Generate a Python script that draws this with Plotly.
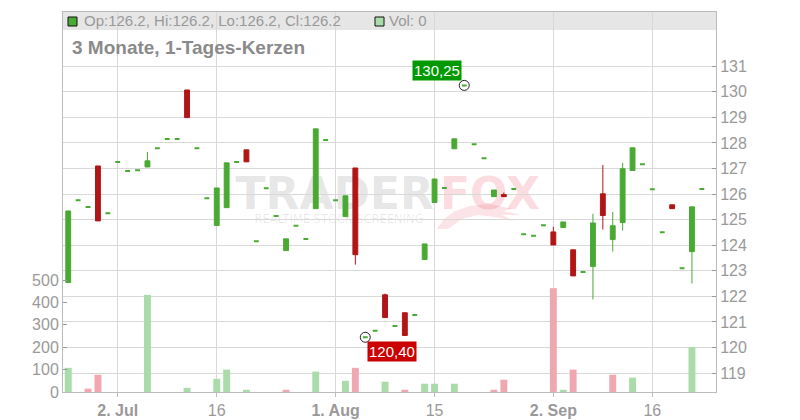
import plotly.graph_objects as go

# ---------------- data ----------------
dates = [
    "2024-06-25", "2024-06-26", "2024-06-27", "2024-06-28",
    "2024-07-01", "2024-07-02", "2024-07-03", "2024-07-04", "2024-07-05",
    "2024-07-08", "2024-07-09", "2024-07-10", "2024-07-11", "2024-07-12",
    "2024-07-15", "2024-07-16", "2024-07-17", "2024-07-18", "2024-07-19",
    "2024-07-22", "2024-07-23", "2024-07-24", "2024-07-25", "2024-07-26",
    "2024-07-29", "2024-07-30", "2024-07-31", "2024-08-01", "2024-08-02",
    "2024-08-05", "2024-08-06", "2024-08-07", "2024-08-08", "2024-08-09",
    "2024-08-12", "2024-08-13", "2024-08-14", "2024-08-15", "2024-08-16",
    "2024-08-19", "2024-08-20", "2024-08-21", "2024-08-22", "2024-08-23",
    "2024-08-26", "2024-08-27", "2024-08-28", "2024-08-29", "2024-08-30",
    "2024-09-02", "2024-09-03", "2024-09-04", "2024-09-05", "2024-09-06",
    "2024-09-09", "2024-09-10", "2024-09-11", "2024-09-12", "2024-09-13",
    "2024-09-16", "2024-09-17", "2024-09-18", "2024-09-19", "2024-09-20",
    "2024-09-23",
]
opens = [
    122.54, 125.76, 125.49, 127.10, 125.25, 127.25, 126.90, 126.93, 127.06,
    127.79, 128.15, 128.15, 130.07, 127.79, 125.84, 124.77, 125.47, 127.25,
    127.73, 124.16, 126.23, 125.14, 123.79, 124.76, 124.24, 125.43, 128.11,
    125.76, 125.12, 127.02, 120.40, 120.66, 122.06, 120.84, 121.36, 121.27,
    123.44, 125.67, 126.24, 127.77, 130.25, 127.95, 127.40, 125.90, 125.98,
    126.20, 124.43, 124.37, 124.78, 124.52, 124.69, 123.82, 122.95, 123.17,
    126.01, 124.22, 124.89, 126.92, 127.17, 126.19, 124.51, 125.58, 123.10,
    123.75, 126.20,
]
highs = [
    125.34, 125.76, 125.49, 127.10, 125.25, 127.25, 126.90, 126.93, 127.65,
    127.79, 128.15, 128.15, 130.07, 127.79, 125.84, 126.24, 127.22, 127.25,
    127.73, 124.16, 126.23, 125.14, 124.25, 124.76, 124.24, 128.55, 128.11,
    125.76, 125.93, 127.02, 120.40, 120.66, 122.11, 120.84, 121.36, 121.27,
    124.05, 126.59, 126.24, 128.16, 130.25, 127.95, 127.40, 126.16, 126.06,
    126.20, 124.43, 124.37, 124.78, 124.72, 124.91, 123.82, 122.95, 125.23,
    127.14, 125.30, 127.22, 127.81, 127.17, 126.19, 124.51, 125.58, 123.10,
    125.50, 126.20,
]
lows = [
    122.54, 125.76, 125.49, 124.95, 125.25, 127.25, 126.90, 126.93, 127.06,
    127.79, 128.15, 128.15, 128.99, 127.79, 125.84, 124.77, 125.47, 127.25,
    127.26, 124.16, 126.23, 125.14, 123.79, 124.76, 124.24, 125.43, 128.11,
    125.76, 125.12, 123.24, 120.40, 120.66, 121.17, 120.84, 120.47, 121.27,
    123.44, 125.67, 126.24, 127.77, 130.25, 127.95, 127.40, 125.90, 125.90,
    126.20, 124.43, 124.37, 124.78, 124.01, 124.69, 122.80, 122.95, 121.88,
    124.61, 123.75, 124.57, 126.92, 127.17, 126.19, 124.51, 125.43, 123.10,
    122.50, 126.20,
]
closes = [
    125.34, 125.76, 125.49, 124.95, 125.25, 127.25, 126.90, 126.93, 127.30,
    127.79, 128.15, 128.15, 128.99, 127.79, 125.84, 126.24, 127.22, 127.25,
    127.26, 124.16, 126.23, 125.14, 124.25, 124.76, 124.24, 128.55, 128.11,
    125.76, 125.93, 123.63, 120.40, 120.66, 121.17, 120.84, 120.47, 121.27,
    124.05, 126.59, 126.24, 128.16, 130.25, 127.95, 127.40, 126.16, 125.90,
    126.20, 124.43, 124.37, 124.78, 124.01, 124.91, 122.80, 122.95, 124.87,
    125.16, 124.76, 126.99, 127.81, 127.17, 126.19, 124.51, 125.43, 123.10,
    125.50, 126.20,
]
volumes = [
    108, 0, 15, 77, 0, 0, 0, 0, 434, 0, 0, 0, 19, 0, 0, 59, 100, 0, 10, 0,
    0, 0, 10, 0, 0, 91, 0, 0, 50, 108, 0, 0, 46, 0, 10, 0, 37, 37, 0, 37,
    0, 0, 0, 10, 55, 0, 0, 0, 0, 464, 10, 100, 0, 0, 0, 77, 0, 64, 0, 0,
    0, 0, 0, 201, 0,
]
tick_dates = ["2024-07-02", "2024-07-16", "2024-08-01", "2024-08-15", "2024-09-02", "2024-09-16"]
tick_labels = ["<b>2. Jul</b>", "16", "<b>1. Aug</b>", "15", "<b>2. Sep</b>", "16"]
price_ticks = [119, 120, 121, 122, 123, 124, 125, 126, 127, 128, 129, 130, 131]
vol_ticks = [0, 100, 200, 300, 400, 500]
title_text = "3 Monate, 1-Tages-Kerzen"

# ---------------- styling ----------------
GREEN = "#48aa32"
RED = "#b11616"
VOL_UP = "#aadcaa"
VOL_DOWN = "#f0a8b0"
GRID = "#d8d8d8"
AXIS = "#bbbbbb"
LABEL = "#999999"
FONT = "Liberation Sans, Arial, sans-serif"

W, H = 800, 420
L, R, T, B = 63, 716, 12, 392


def px(x):
    return (x - L) / (R - L)


def py(y):
    return (B - y) / (B - T)


# volume colours: close vs previous close
vol_colors = []
for i, c in enumerate(closes):
    prev = closes[i - 1] if i > 0 else opens[0]
    vol_colors.append(VOL_UP if c >= prev else VOL_DOWN)

fig = go.Figure()

fig.add_trace(go.Bar(
    x=dates, y=volumes, marker=dict(color=vol_colors, line=dict(width=0)),
    width=0.7, yaxis="y", xaxis="x", showlegend=False, hoverinfo="skip",
))


def subset(cond):
    idx = [i for i in range(len(dates)) if cond(i)]
    return ([dates[i] for i in idx], [opens[i] for i in idx], [highs[i] for i in idx],
            [lows[i] for i in idx], [closes[i] for i in idx])


groups = [
    (lambda i: closes[i] > opens[i], GREEN, 1),
    (lambda i: closes[i] < opens[i], RED, 1),
    (lambda i: closes[i] == opens[i], GREEN, 2),
]
for cond, col, lw in groups:
    xs, o, h, l, c = subset(cond)
    fig.add_trace(go.Candlestick(
        x=xs, open=o, high=h, low=l, close=c, yaxis="y2",
        increasing=dict(line=dict(color=col, width=lw), fillcolor=col),
        decreasing=dict(line=dict(color=col, width=lw), fillcolor=col),
        whiskerwidth=0, showlegend=False, hoverinfo="skip",
    ))

# extreme markers
i_hi = highs.index(max(highs))
i_lo = lows.index(min(lows))
fig.add_trace(go.Scatter(
    x=[dates[i_hi], dates[i_lo]], y=[highs[i_hi], lows[i_lo]], yaxis="y2",
    mode="markers", marker=dict(symbol="circle-open", size=10, color="#222222", line=dict(width=1)),
    showlegend=False, hoverinfo="skip",
))


def de(v):
    return f"{v:.2f}".replace(".", ",")


annotations = [
    dict(x=dates[i_hi], y=highs[i_hi], xref="x", yref="y2", text=de(highs[i_hi]),
         showarrow=False, xanchor="right", yanchor="bottom", xshift=-2, yshift=4,
         bgcolor="#009a00", font=dict(family=FONT, size=15, color="white"), borderpad=1),
    dict(x=dates[i_lo], y=lows[i_lo], xref="x", yref="y2", text=de(lows[i_lo]),
         showarrow=False, xanchor="left", yanchor="top", xshift=2, yshift=-4,
         bgcolor="#cc0000", font=dict(family=FONT, size=15, color="white"), borderpad=1),
    dict(x=px(82), y=py(21), xref="paper", yref="paper",
         text=f"Op:{opens[-1]:.1f}, Hi:{highs[-1]:.1f}, Lo:{lows[-1]:.1f}, Cl:{closes[-1]:.1f}",
         showarrow=False, xanchor="left", yanchor="middle",
         font=dict(family=FONT, size=15, color=LABEL)),
    dict(x=px(387), y=py(21), xref="paper", yref="paper", text=f"Vol: {volumes[-1]}",
         showarrow=False, xanchor="left", yanchor="middle",
         font=dict(family=FONT, size=15, color=LABEL)),
    dict(x=px(70), y=py(48), xref="paper", yref="paper", text=f"<b>{title_text}</b>",
         showarrow=False, xanchor="left", yanchor="middle",
         font=dict(family=FONT, size=19, color="#8a8a8a")),
]


def path(points):
    s = "M " + " L ".join(f"{px(x):.4f},{py(y):.4f}" for x, y in points) + " Z"
    return s


tail = [(437, 229), (444, 219), (455, 211), (470, 206), (488, 204), (500, 206),
        (512, 209), (503, 211), (522, 215), (502, 215), (514, 221), (495, 217),
        (478, 215), (462, 219), (448, 229)]

shapes = [
    dict(type="rect", xref="paper", yref="paper", x0=0, x1=1, y0=py(30), y1=1,
         fillcolor="#e6e6e6", line=dict(width=0), layer="below"),
    dict(type="rect", xref="paper", yref="paper", x0=px(68), x1=px(77), y0=py(26), y1=py(17),
         fillcolor=GREEN, line=dict(width=1, color="#111111"), layer="above"),
    dict(type="rect", xref="paper", yref="paper", x0=px(375), x1=px(384), y0=py(26), y1=py(17),
         fillcolor=VOL_UP, line=dict(width=1, color="#111111"), layer="above"),
    # watermark
    dict(type="path", xref="paper", yref="paper", path=path(tail),
         fillcolor="rgba(235,70,95,0.15)", line=dict(width=0), layer="between"),
    dict(type="rect", xref="paper", yref="paper", x0=px(200), x1=px(437), y0=py(206), y1=py(174),
         fillcolor="rgba(0,0,0,0)", line=dict(width=0), layer="between",
         label=dict(text="<b>TRADER</b>", textposition="middle right", padding=0,
                    font=dict(family="DejaVu Sans", size=44, color="rgba(0,0,0,0.1)"))),
    dict(type="rect", xref="paper", yref="paper", x0=px(437), x1=px(600), y0=py(206), y1=py(174),
         fillcolor="rgba(0,0,0,0)", line=dict(width=0), layer="between",
         label=dict(text="<b>FOX</b>", textposition="middle left", padding=0,
                    font=dict(family="DejaVu Sans", size=44, color="rgba(235,70,95,0.2)"))),
    dict(type="rect", xref="paper", yref="paper", x0=px(248), x1=px(430), y0=py(224), y1=py(213),
         fillcolor="rgba(0,0,0,0)", line=dict(width=0), layer="between",
         label=dict(text="REALTIME STOCK SCREENING", textposition="middle center",
                    font=dict(family="DejaVu Sans", size=11.5, color="rgba(0,0,0,0.09)"))),
]

fig.update_layout(
    width=W, height=H,
    margin=dict(l=L, r=W - R, t=T, b=H - B, pad=0, autoexpand=False),
    paper_bgcolor="white", plot_bgcolor="white",
    font=dict(family=FONT, color=LABEL),
    showlegend=False, hovermode=False, dragmode=False,
    barmode="overlay", boxgap=0.3,
    xaxis=dict(
        type="category", categoryorder="array", categoryarray=dates,
        range=[-0.53, len(dates) + 0.43], rangeslider=dict(visible=False),
        tickmode="array", tickvals=tick_dates, ticktext=tick_labels,
        showgrid=True, gridcolor=GRID, gridwidth=1, automargin=False,
        showline=True, linecolor=AXIS, linewidth=1, mirror=True,
        ticks="outside", ticklen=4, tickcolor=AXIS,
        tickfont=dict(family=FONT, size=16, color=LABEL), zeroline=False,
    ),
    yaxis=dict(
        side="left", range=[0, 1698], tickmode="array", tickvals=vol_ticks,
        showgrid=False, zeroline=False, showline=True, linecolor=AXIS, linewidth=1,
        ticks="inside", ticklen=4, tickcolor="#999999", automargin=False,
        tickfont=dict(family=FONT, size=16, color=LABEL),
    ),
    yaxis2=dict(
        overlaying="y", side="right", range=[118.26, 133.12], tickmode="array",
        tickvals=price_ticks, showgrid=True, gridcolor=GRID, gridwidth=1, zeroline=False,
        showline=True, linecolor=AXIS, linewidth=1, automargin=False,
        ticks="inside", ticklen=4, tickcolor="#999999",
        tickfont=dict(family=FONT, size=16, color=LABEL),
    ),
    annotations=annotations,
    shapes=shapes,
)

fig.write_html("out.html", config={"responsive": False, "displayModeBar": False},
               post_script="document.body.style.margin='0';")
